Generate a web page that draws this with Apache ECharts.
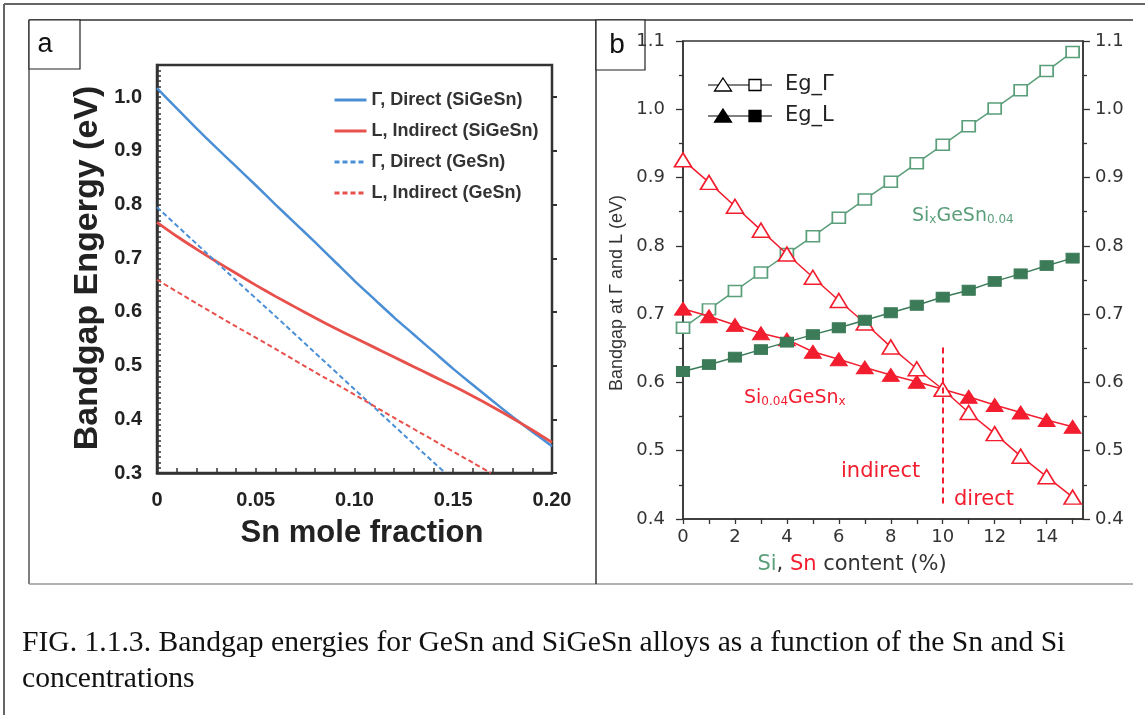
<!DOCTYPE html>
<html>
<head>
<meta charset="utf-8">
<script src="https://cdn.jsdelivr.net/npm/echarts@6/dist/echarts.min.js"></script>
<style>
  html, body { margin: 0; padding: 0; background: #fff; }
  #chart { width: 1145px; height: 715px; }
</style>
</head>
<body>
<div id="chart"></div>
<script>
// ---------- Panel a: bandgap vs Sn mole fraction ----------
const snFraction = [0, 0.01, 0.02, 0.03, 0.04, 0.05, 0.06, 0.07, 0.08, 0.09, 0.10,
                    0.11, 0.12, 0.13, 0.14, 0.15, 0.16, 0.17, 0.18, 0.19, 0.20];
const gammaDirectSiGeSn = [1.017, 0.979, 0.942, 0.906, 0.871, 0.836, 0.800, 0.765, 0.730, 0.694, 0.658,
                           0.624, 0.590, 0.558, 0.526, 0.494, 0.464, 0.434, 0.405, 0.377, 0.350];
const lIndirectSiGeSn = [0.767, 0.741, 0.717, 0.694, 0.672, 0.650, 0.629, 0.609, 0.589, 0.570, 0.552,
                         0.534, 0.516, 0.498, 0.480, 0.462, 0.443, 0.423, 0.402, 0.380, 0.357];
const snFractionGammaGeSn = [0, 0.02, 0.04, 0.06, 0.08, 0.10, 0.12, 0.14, 0.146];
const gammaDirectGeSn = [0.795, 0.727, 0.659, 0.592, 0.524, 0.456, 0.388, 0.320, 0.300];
const snFractionLGeSn = [0, 0.02, 0.04, 0.06, 0.08, 0.10, 0.12, 0.14, 0.16, 0.169];
const lIndirectGeSn = [0.660, 0.616, 0.573, 0.531, 0.488, 0.446, 0.403, 0.361, 0.319, 0.300];

const snTicksA = [0, 0.05, 0.10, 0.15, 0.20];
const energyTicksA = [0.3, 0.4, 0.5, 0.6, 0.7, 0.8, 0.9, 1.0];
const legendNamesA = ['Γ, Direct (SiGeSn)', 'L, Indirect (SiGeSn)', 'Γ, Direct (GeSn)', 'L, Indirect (GeSn)'];

// ---------- Panel b: bandgap vs Si / Sn content ----------
const content = [0, 1, 2, 3, 4, 5, 6, 7, 8, 9, 10, 11, 12, 13, 14, 15];
const egGammaSn = [0.926, 0.893, 0.858, 0.823, 0.788, 0.754, 0.720, 0.687, 0.652, 0.620, 0.590, 0.556, 0.525, 0.492, 0.462, 0.432];
const egLSn     = [0.708, 0.697, 0.684, 0.672, 0.663, 0.645, 0.634, 0.622, 0.611, 0.601, 0.590, 0.579, 0.567, 0.556, 0.545, 0.535];
const egGammaSi = [0.680, 0.707, 0.734, 0.761, 0.788, 0.814, 0.841, 0.868, 0.894, 0.921, 0.948, 0.975, 1.001, 1.028, 1.056, 1.084];
const egLSi     = [0.616, 0.626, 0.637, 0.648, 0.659, 0.670, 0.680, 0.691, 0.702, 0.713, 0.725, 0.735, 0.748, 0.759, 0.771, 0.782];
const contentTicksB = [0, 2, 4, 6, 8, 10, 12, 14];
const crossoverContent = 10;
const crossoverSpan = [0.651, 0.420];

const zip = (xs, ys) => xs.map((x, i) => [x, ys[i]]);

const BLUE = '#4a8fd6';
const RED_A = '#e8504b';
const RED_B = '#f21d2e';
const GREEN_OPEN = '#5a9e7a';
const GREEN_FILL = '#3c7b58';
const SANS = "'Liberation Sans', Arial, sans-serif";
const WIDE = "'DejaVu Sans', sans-serif";
const SERIF = "'Liberation Serif', 'Times New Roman', serif";

const chart = echarts.init(document.getElementById('chart'), null, { renderer: 'canvas' });

const lineA = (name, xs, ys, color, dashed, width) => ({
  name, type: 'line', xAxisIndex: 0, yAxisIndex: 0,
  data: zip(xs, ys), symbol: 'none', smooth: 0.25,
  lineStyle: { color, width, type: dashed ? [5, 3] : 'solid' },
  itemStyle: { color }, emphasis: { disabled: true }, silent: true
});

const lineB = (name, ys, color, symbol, size, filled, z) => ({
  name, type: 'line', xAxisIndex: 1, yAxisIndex: 2,
  data: zip(content, ys), symbol, symbolSize: size, showAllSymbol: true,
  lineStyle: { color, width: 1.5 },
  itemStyle: filled ? { color, borderColor: color, borderWidth: 1 }
                    : { color: '#ffffff', borderColor: color, borderWidth: 1.6 },
  emphasis: { disabled: true }, silent: true, z
});

// Legend rows of panel b: one line carrying a triangle and a square
function legendRowB(y, label, filled) {
  const fill = filled ? '#000' : '#fff';
  return [
    { type: 'line', shape: { x1: 708, y1: y, x2: 772, y2: y }, style: { stroke: '#000', lineWidth: 1.2 }, z: 10 },
    { type: 'polygon', shape: { points: [[723, y - 7], [731.5, y + 6], [714.5, y + 6]] },
      style: { fill, stroke: '#000', lineWidth: 1.3 }, z: 11 },
    { type: 'rect', shape: { x: 749, y: y - 5.5, width: 12, height: 11 },
      style: { fill, stroke: '#000', lineWidth: 1.3 }, z: 11 },
    { type: 'text', x: 785, y: y, style: { text: label, fontFamily: WIDE, fontSize: 21, fill: '#222',
      align: 'left', verticalAlign: 'middle' }, z: 11 }
  ];
}

const option = {
  backgroundColor: '#ffffff',
  animation: false,
  grid: [
    { left: 157, top: 65, width: 395, height: 408, show: true, borderColor: '#333', borderWidth: 2.5, backgroundColor: 'transparent' },
    { left: 683, top: 41, width: 400, height: 478, show: true, borderColor: '#333', borderWidth: 1.5, backgroundColor: 'transparent' }
  ],
  legend: {
    data: legendNamesA, orient: 'vertical', left: 333, top: 91, padding: 0,
    itemWidth: 32, itemHeight: 14, itemGap: 13, selectedMode: false,
    itemStyle: { opacity: 0 },
    lineStyle: { width: 3 },
    textStyle: { fontFamily: SANS, fontWeight: 'bold', fontSize: 18, color: '#333', lineHeight: 18 }
  },
  xAxis: [
    {
      gridIndex: 0, type: 'value', min: 0, max: 0.2, interval: 0.01,
      axisLine: { show: true, lineStyle: { color: '#333', width: 2.5 } },
      axisTick: { show: true, inside: true, length: 5, lineStyle: { color: '#333', width: 1.5 } },
      splitLine: { show: false },
      axisLabel: {
        customValues: snTicksA, margin: 17,
        fontFamily: SANS, fontWeight: 'bold', fontSize: 20, color: '#222',
        formatter: v => {
          const k = Math.round(v * 20);
          if (Math.abs(v * 20 - k) > 1e-6) return '';
          return k === 0 ? '0' : (k / 20).toFixed(2);
        }
      }
    },
    {
      gridIndex: 1, type: 'value', min: 0, max: 15.4, interval: 1,
      axisLine: { show: true, lineStyle: { color: '#333', width: 1.5 } },
      axisTick: { show: true, customValues: content, length: 5, lineStyle: { color: '#333', width: 1.3 } },
      splitLine: { show: false },
      axisLabel: {
        customValues: contentTicksB, margin: 9,
        fontFamily: WIDE, fontSize: 18, color: '#333',
        formatter: v => (Math.abs(v % 2) < 1e-6 ? String(v) : '')
      }
    }
  ],
  yAxis: [
    {
      gridIndex: 0, type: 'value', min: 0.3, max: 1.06, interval: 0.01,
      axisLine: { show: true, lineStyle: { color: '#333', width: 2.5 } },
      axisTick: { show: true, inside: true, length: 4, lineStyle: { color: '#333', width: 1.5 } },
      splitLine: { show: false },
      axisLabel: {
        customValues: energyTicksA, margin: 15,
        fontFamily: SANS, fontWeight: 'bold', fontSize: 20, color: '#222',
        formatter: v => {
          const k = Math.round(v * 10);
          return Math.abs(v * 10 - k) > 1e-6 ? '' : (k / 10).toFixed(1);
        }
      }
    },
    {
      gridIndex: 0, type: 'value', min: 0.3, max: 1.06, interval: 0.1,
      axisLine: { show: false },
      axisTick: { show: true, customValues: energyTicksA, length: 5, lineStyle: { color: '#333', width: 2 } },
      axisLabel: { show: false }, splitLine: { show: false }
    },
    {
      gridIndex: 1, type: 'value', min: 0.4, max: 1.1, interval: 0.1, position: 'left',
      axisLine: { show: true, lineStyle: { color: '#333', width: 1.5 } },
      axisTick: { show: true, length: 7, lineStyle: { color: '#333', width: 1.3 } },
      minorTick: { show: true, splitNumber: 2, length: 4, lineStyle: { color: '#333', width: 1.3 } },
      splitLine: { show: false },
      axisLabel: { margin: 18, fontFamily: WIDE, fontSize: 18, color: '#333', formatter: v => v.toFixed(1) }
    },
    {
      gridIndex: 1, type: 'value', min: 0.4, max: 1.1, interval: 0.1, position: 'right',
      axisLine: { show: true, lineStyle: { color: '#333', width: 1.5 } },
      axisTick: { show: true, length: 7, lineStyle: { color: '#333', width: 1.3 } },
      minorTick: { show: true, splitNumber: 2, length: 4, lineStyle: { color: '#333', width: 1.3 } },
      splitLine: { show: false },
      axisLabel: { margin: 12, fontFamily: WIDE, fontSize: 18, color: '#333', formatter: v => v.toFixed(1) }
    }
  ],
  series: [
    lineA(legendNamesA[0], snFraction, gammaDirectSiGeSn, BLUE, false, 2.5),
    lineA(legendNamesA[1], snFraction, lIndirectSiGeSn, RED_A, false, 2.8),
    lineA(legendNamesA[2], snFractionGammaGeSn, gammaDirectGeSn, BLUE, true, 2),
    lineA(legendNamesA[3], snFractionLGeSn, lIndirectGeSn, RED_A, true, 2),

    lineB('Eg_Γ Si', egGammaSi, GREEN_OPEN, 'rect', [13, 11], false, 2),
    lineB('Eg_L Sn', egLSn, RED_B, 'triangle', [17, 13], true, 3),
    Object.assign(lineB('Eg_Γ Sn', egGammaSn, RED_B, 'triangle', [17, 14], false, 4), {
      markLine: {
        silent: true, symbol: 'none', label: { show: false },
        lineStyle: { color: RED_B, width: 2, type: [6, 4] },
        data: [[{ coord: [crossoverContent, crossoverSpan[0]] }, { coord: [crossoverContent, crossoverSpan[1]] }]]
      }
    }),
    lineB('Eg_L Si', egLSi, GREEN_FILL, 'rect', [13, 10], true, 5)
  ],
  graphic: { elements: [
    // page borders
    { type: 'line', shape: { x1: 4, y1: 4, x2: 1145, y2: 4 }, style: { stroke: '#666', lineWidth: 2 } },
    { type: 'line', shape: { x1: 4, y1: 4, x2: 4, y2: 715 }, style: { stroke: '#666', lineWidth: 2 } },
    // figure frame and panel divider
    { type: 'line', shape: { x1: 29, y1: 20, x2: 1133, y2: 20 }, style: { stroke: '#333', lineWidth: 1.5 } },
    { type: 'line', shape: { x1: 29, y1: 20, x2: 29, y2: 584 }, style: { stroke: '#555', lineWidth: 1.5 } },
    { type: 'line', shape: { x1: 29, y1: 584, x2: 1133, y2: 584 }, style: { stroke: '#999', lineWidth: 1.5 } },
    { type: 'line', shape: { x1: 596, y1: 20, x2: 596, y2: 584 }, style: { stroke: '#333', lineWidth: 1.5 } },
    // panel tags
    { type: 'rect', shape: { x: 29, y: 20, width: 51, height: 49 }, style: { fill: '#fff', stroke: '#222', lineWidth: 1.2 } },
    { type: 'text', x: 45, y: 45, style: { text: 'a', fontFamily: SANS, fontSize: 27, fill: '#111', align: 'center', verticalAlign: 'middle' } },
    { type: 'rect', shape: { x: 596, y: 20, width: 49, height: 50 }, style: { fill: '#fff', stroke: '#222', lineWidth: 1.2 } },
    { type: 'text', x: 617, y: 45, style: { text: 'b', fontFamily: SANS, fontSize: 28, fill: '#111', align: 'center', verticalAlign: 'middle' } },
    // panel a axis titles
    { type: 'text', x: 88, y: 268, rotation: Math.PI / 2,
      style: { text: 'Bandgap Engergy (eV)', fontFamily: SANS, fontWeight: 'bold', fontSize: 34, fill: '#222', align: 'center', verticalAlign: 'middle' } },
    { type: 'text', x: 362, y: 533,
      style: { text: 'Sn mole fraction', fontFamily: SANS, fontWeight: 'bold', fontSize: 31, fill: '#222', align: 'center', verticalAlign: 'middle' } },
    // panel b axis titles
    { type: 'text', x: 617, y: 293, rotation: Math.PI / 2,
      style: { text: 'Bandgap at Γ and L (eV)', fontFamily: SANS, fontSize: 18, fill: '#333', align: 'center', verticalAlign: 'middle' } },
    { type: 'text', x: 852, y: 565,
      style: { text: '{g|Si}{k|, }{r|Sn}{k| content (%)}', align: 'center', verticalAlign: 'middle',
        rich: {
          g: { fontFamily: WIDE, fontSize: 21, fill: GREEN_OPEN },
          r: { fontFamily: WIDE, fontSize: 21, fill: RED_B },
          k: { fontFamily: WIDE, fontSize: 21, fill: '#333' }
        } } },
    // panel b annotations
    { type: 'text', x: 912, y: 226, z: 20,
      style: { text: '{m|Si}{s|x}{m|GeSn}{s|0.04}', align: 'left', verticalAlign: 'bottom',
        rich: {
          m: { fontFamily: WIDE, fontSize: 19, lineHeight: 22, verticalAlign: 'bottom', fill: GREEN_OPEN },
          s: { fontFamily: WIDE, fontSize: 12, lineHeight: 4, verticalAlign: 'bottom', fill: GREEN_OPEN }
        } } },
    { type: 'text', x: 744, y: 408, z: 20,
      style: { text: '{m|Si}{s|0.04}{m|GeSn}{s|x}', align: 'left', verticalAlign: 'bottom',
        rich: {
          m: { fontFamily: WIDE, fontSize: 19, lineHeight: 22, verticalAlign: 'bottom', fill: RED_B },
          s: { fontFamily: WIDE, fontSize: 12, lineHeight: 4, verticalAlign: 'bottom', fill: RED_B }
        } } },
    { type: 'text', x: 841, y: 472, z: 20,
      style: { text: 'indirect', fontFamily: WIDE, fontSize: 21, fill: RED_B, align: 'left', verticalAlign: 'middle' } },
    { type: 'text', x: 954, y: 500, z: 20,
      style: { text: 'direct', fontFamily: WIDE, fontSize: 21, fill: RED_B, align: 'left', verticalAlign: 'middle' } },
    // panel b legend
    ...legendRowB(85, 'Eg_Γ', false),
    ...legendRowB(116, 'Eg_L', true),
    // caption
    { type: 'text', x: 22, y: 643,
      style: { text: 'FIG. 1.1.3. Bandgap energies for GeSn and SiGeSn alloys as a function of the Sn and Si',
        fontFamily: SERIF, fontSize: 29.6, fill: '#111', align: 'left', verticalAlign: 'middle' } },
    { type: 'text', x: 22, y: 679,
      style: { text: 'concentrations',
        fontFamily: SERIF, fontSize: 29.6, fill: '#111', align: 'left', verticalAlign: 'middle' } }
  ] }
};

chart.setOption(option);
</script>
</body>
</html>
